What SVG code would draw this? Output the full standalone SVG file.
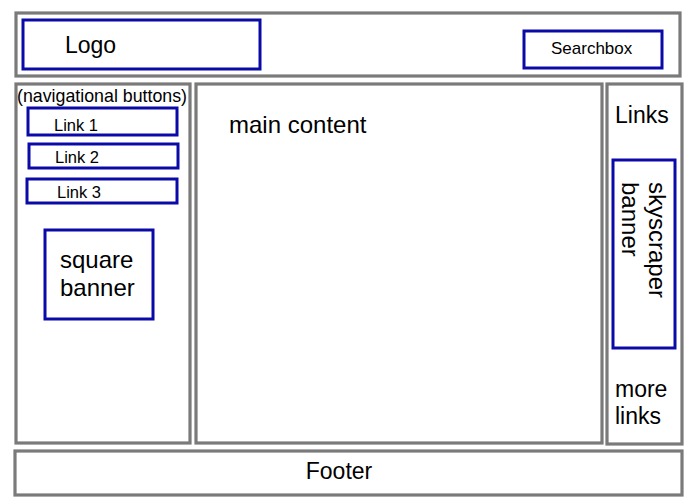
<svg xmlns="http://www.w3.org/2000/svg" width="700" height="500" viewBox="0 0 700 500">
<style>
.frame{fill:#fff;stroke:#7a7a7a;stroke-width:3.2}
.box{fill:#fff;stroke:#0a0aa8;stroke-width:3}
text{font-family:"Liberation Sans",Arial,sans-serif;fill:#000}
.big{font-size:23px}
.lg{font-size:24px}
.mid{font-size:17px}
.lnk{font-size:16.5px}
</style>
<rect width="700" height="500" fill="#fff"/>
<g id="header">
<rect class="frame" x="16" y="13" width="664" height="63"/>
</g>
<g id="logo">
<rect class="box" x="23" y="20" width="237" height="49"/>
<text class="big" x="65" y="53">Logo</text>
</g>
<g id="searchbox">
<rect class="box" x="524" y="31" width="138" height="37"/>
<text class="mid" x="551" y="54">Searchbox</text>
</g>
<g id="left-sidebar">
<rect class="frame" x="16" y="84" width="174" height="359"/>
<text x="17" y="102" style="font-size:17.8px">(navigational buttons)</text>
</g>
<g id="link1">
<rect class="box" x="28" y="108" width="149" height="27"/>
<text class="lnk" x="54" y="131">Link 1</text>
</g>
<g id="link2">
<rect class="box" x="29" y="144" width="149" height="24"/>
<text class="lnk" x="55" y="163">Link 2</text>
</g>
<g id="link3">
<rect class="box" x="27" y="179" width="150" height="24"/>
<text class="lnk" x="57" y="198">Link 3</text>
</g>
<g id="square-banner">
<rect class="box" x="45" y="230" width="108" height="89"/>
<text class="lg" x="60" y="268">square</text>
<text class="lg" x="60" y="296">banner</text>
</g>
<g id="main-content">
<rect class="frame" x="196" y="84" width="406" height="359"/>
<text class="lg" x="229" y="133">main content</text>
</g>
<g id="right-sidebar">
<rect class="frame" x="607" y="84" width="75" height="360"/>
<text class="big" x="615" y="123">Links</text>
<text class="big" x="615" y="397">more</text>
<text class="big" x="615" y="424">links</text>
</g>
<g id="skyscraper-banner">
<rect class="box" x="613" y="160" width="62" height="188"/>
<g transform="translate(649,182) rotate(90)">
<text class="lg" x="0" y="0">skyscraper</text>
<text class="lg" x="0" y="27">banner</text>
</g>
</g>
<g id="footer">
<rect class="frame" x="15" y="451" width="667" height="44"/>
<text class="big" x="339" y="479" text-anchor="middle">Footer</text>
</g>
<g id="connectors"></g>
</svg>
